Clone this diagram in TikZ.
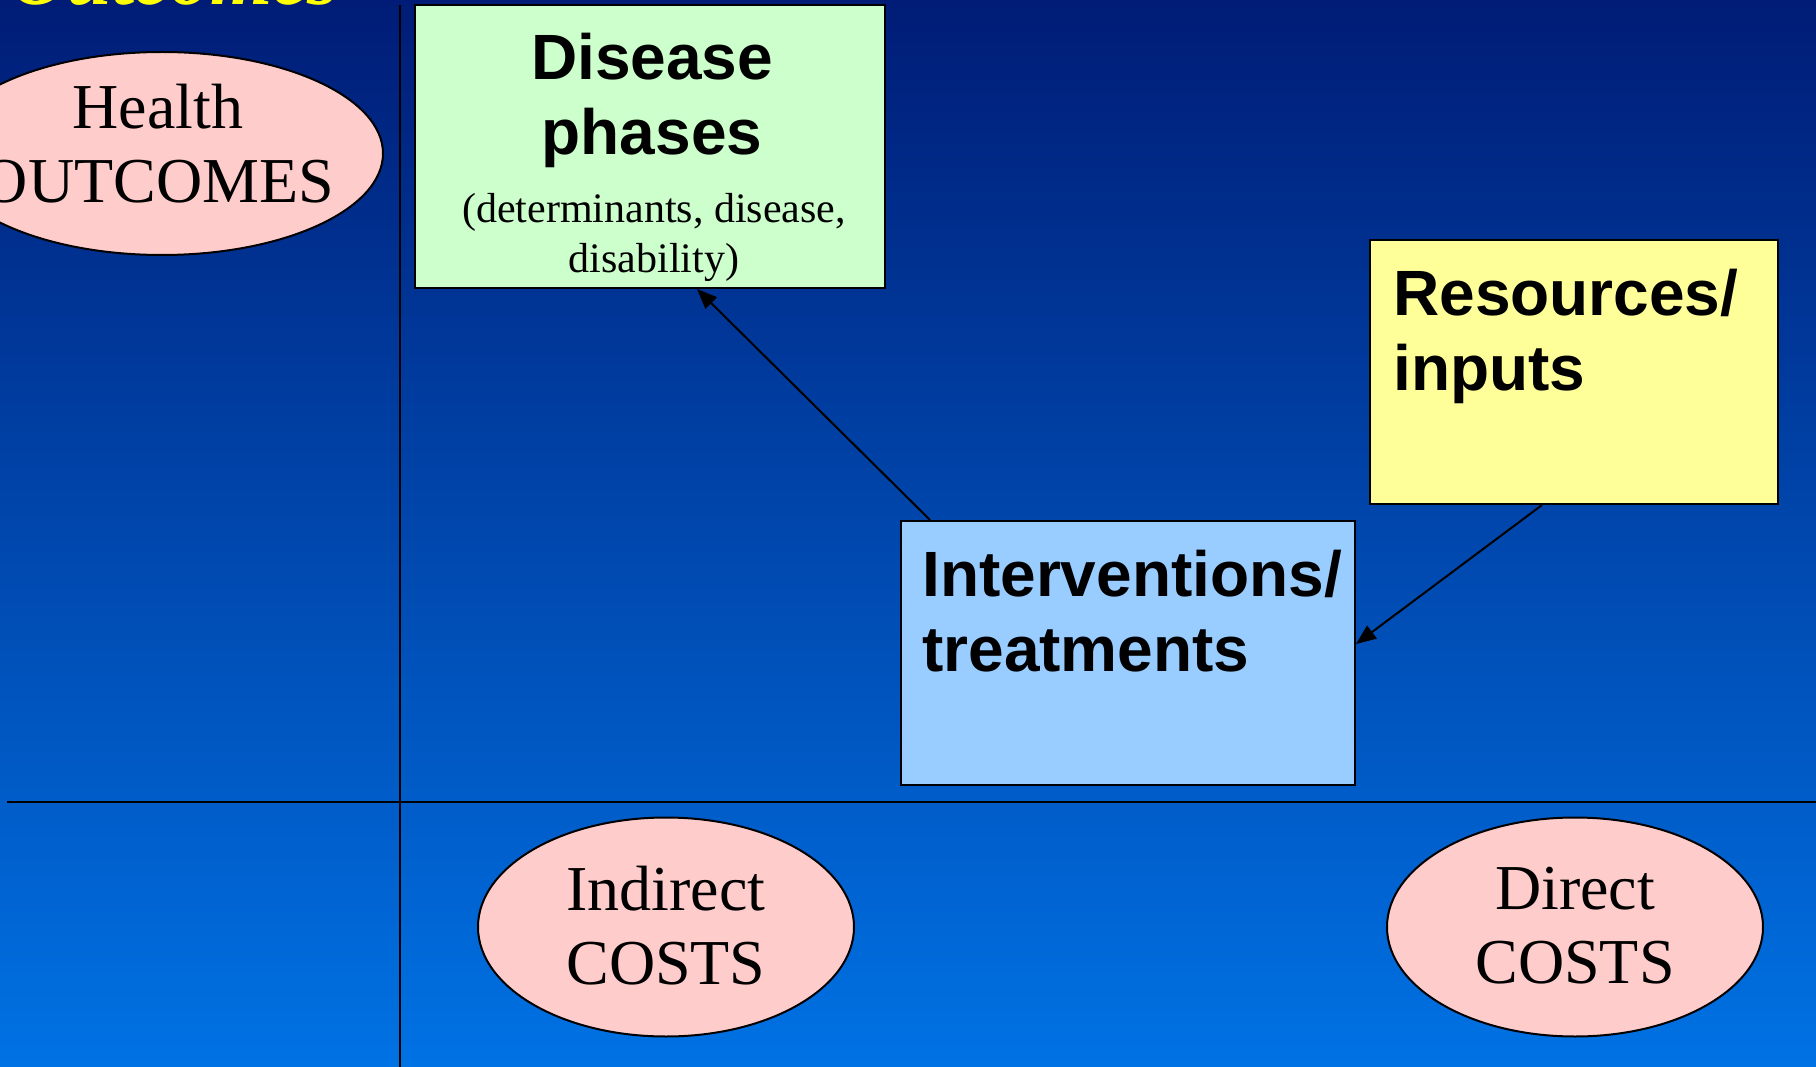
\documentclass[tikz,border=0pt]{standalone}
\usepackage{fontspec}
\setmainfont{Liberation Serif}
\newfontfamily\arialfont{Liberation Sans}
\usetikzlibrary{arrows.meta,shapes.geometric}
\definecolor{bgtop}{RGB}{0,28,118}
\definecolor{bgbot}{RGB}{0,114,228}
\definecolor{pinkfill}{HTML}{FFCCCC}
\definecolor{greenfill}{HTML}{CCFFCC}
\definecolor{yellowfill}{HTML}{FFFF99}
\definecolor{bluefill}{HTML}{99CCFF}
\definecolor{titleyellow}{HTML}{FFFF00}
\tikzset{
  oval/.style={ellipse, draw=black, line width=2pt, fill=pinkfill, inner sep=0pt,
               minimum width=376pt, minimum height=219pt},
  boxshape/.style={rectangle, draw=black, line width=2pt, inner sep=0pt},
  ovaltext/.style={align=center, inner sep=0pt, font=\fontsize{64}{74}\selectfont},
  boxtitle/.style={inner sep=0pt, font=\arialfont\bfseries\fontsize{64}{75}\selectfont},
  smalltext/.style={align=center, inner sep=0pt, font=\fontsize{42}{50}\selectfont},
  link/.style={line width=2pt, -{Triangle[length=20pt,width=16pt]}},
  rule/.style={draw=black}
}
\begin{document}
\begin{tikzpicture}[x=1pt,y=-1pt]
\useasboundingbox (0,0) rectangle (1816,1067);
\shade[top color=bgtop, bottom color=bgbot] (0,0) rectangle (1816,1067);

% title fragment
\node[anchor=base west, inner sep=0pt, text=titleyellow,
      font=\bfseries\itshape\fontsize{80}{90}\selectfont] (title) at (10,5) {Outcomes};

% dividing lines
\coordinate (vtop) at (400,5);
\coordinate (vbot) at (400,1067);
\coordinate (hleft) at (7,802);
\coordinate (hright) at (1816,802);
\draw[rule, line width=1.2pt] (vtop) -- (vbot);
\draw[rule, line width=2.2pt] (hleft) -- (hright);

% ellipses
\node[oval, minimum width=442pt, minimum height=203pt] (health) at (162,153.5) {};
\node[ovaltext] (healthlbl) at (158,143.6) {Health\\OUTCOMES};

\node[oval] (indirect) at (666,927) {};
\node[ovaltext] (indirectlbl) at (666,925.6) {Indirect\\COSTS};

\node[oval] (direct) at (1575,927) {};
\node[ovaltext] (directlbl) at (1575,925.6) {Direct\\COSTS};

% boxes
\node[boxshape, fill=greenfill, minimum width=470pt, minimum height=283pt] (disease) at (650,146.5) {};
\node[boxtitle, align=center] (diseaselbl) at (652,100.8) {Disease\\phases};
\node[smalltext] (diseasesub) at (654,237.3) {(determinants, disease,\\disability)};

\node[boxshape, fill=yellowfill, minimum width=408pt, minimum height=264pt] (res) at (1574,372) {};
\node[boxtitle, align=left, anchor=west] (reslbl) at (1393,336) {Resources/\\inputs};

\node[boxshape, fill=bluefill, minimum width=454pt, minimum height=264pt] (interv) at (1128,653) {};
\node[boxtitle, align=left, anchor=west] (intervlbl) at (922,611) {Interventions/\\treatments};

% connectors
\draw[link] ([xshift=30pt]interv.north west) -- ([xshift=283pt]disease.south west);
\draw[link] ([xshift=173pt]res.south west) -- ([yshift=9pt]interv.east);
\end{tikzpicture}
\end{document}
